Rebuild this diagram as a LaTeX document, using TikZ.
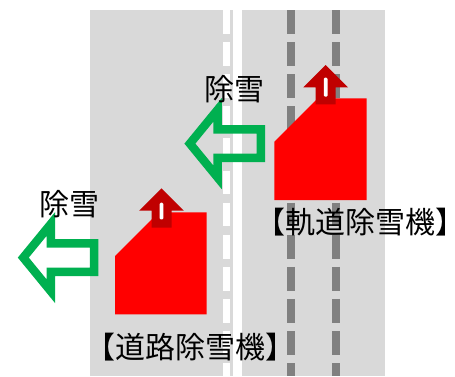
\documentclass[tikz,border=0pt]{standalone}
\usepackage{fontspec}
\newfontfamily\jpfont{Noto Sans CJK JP}
\definecolor{roadgray}{HTML}{D9D9D9}
\definecolor{dashgray}{HTML}{808080}
\definecolor{arrowgreen}{HTML}{00B050}
\definecolor{bodyred}{HTML}{FF0000}
\definecolor{darkred}{HTML}{C00000}
\tikzset{
  road/.style={fill=roadgray, draw=none},
  whitedash/.style={draw=white, line width=7.5pt, dash pattern=on 23.8pt off 8.3pt},
  graydash/.style={draw=dashgray, line width=8pt, dash pattern=on 23.8pt off 8.3pt},
  vehicle/.style={fill=bodyred, draw=none},
  uparrow/.style={fill=darkred, draw=none},
  slit/.style={fill=white, draw=none, rounded corners=1.2pt},
  greenarrow/.style={draw=arrowgreen, line width=8.5pt, miter limit=10, fill=none},
  lbl/.style={font=\jpfont\fontsize{30}{30}\selectfont, inner sep=0pt, text=black}
}
\begin{document}
\begin{tikzpicture}[x=1pt, y=-1pt]
\useasboundingbox (0,0) rectangle (455,376);
% roads
\fill[road] (90,10) rectangle (232.7,376);
\fill[road] (242,10) rectangle (385,376);
% lane markings
\coordinate (wt) at (226.3,10); \coordinate (wb) at (226.3,376);
\coordinate (g1t) at (291.3,10); \coordinate (g1b) at (291.3,376);
\coordinate (g2t) at (336.3,10); \coordinate (g2b) at (336.3,376);
\draw[whitedash] (wt) -- (wb);
\draw[graydash] (g1t) -- (g1b);
\draw[graydash] (g2t) -- (g2b);
% vehicles
\fill[vehicle] (274.3,200) -- (274.3,141.7) -- (317.7,98.3) -- (366.7,98.3) -- (366.7,200) -- cycle;
\fill[vehicle] (115,314.3) -- (115,256) -- (158.7,212.3) -- (206.7,212.3) -- (206.7,314.3) -- cycle;
% dark red up arrows
\begin{scope}[shift={(325.7,65)}]
\fill[uparrow] (0,0) -- (22.3,22.3) -- (10,22.3) -- (10,39.3) -- (-10,39.3) -- (-10,22.3) -- (-22.3,22.3) -- cycle;
\fill[slit] (-1.9,12.7) rectangle (1.9,31.7);
\end{scope}
\begin{scope}[shift={(161.5,188.3)}]
\fill[uparrow] (0,0) -- (22.3,22.3) -- (10,22.3) -- (10,39.3) -- (-10,39.3) -- (-10,22.3) -- (-22.3,22.3) -- cycle;
\fill[slit] (-1.9,14.4) rectangle (1.9,31.0);
\end{scope}
% green arrows
\draw[greenarrow] (189.9,143.6) -- (217.5,109.9) -- (217.5,129.3) -- (260.8,129.3) -- (260.8,157.9) -- (217.5,157.9) -- (217.5,177.3) -- cycle;
\begin{scope}[shift={(-166.6,114)}]
\draw[greenarrow] (189.9,143.6) -- (217.5,109.9) -- (217.5,129.3) -- (260.8,129.3) -- (260.8,157.9) -- (217.5,157.9) -- (217.5,177.3) -- cycle;
\end{scope}
% labels
\node[lbl] (j1) at (234.5,88.7) {除雪};
\node[lbl] (j2) at (69,204) {除雪};
\node[lbl] (t1) at (360,221.7) {【軌道除雪機】};
\node[lbl] (t2) at (190,346.7) {【道路除雪機】};
\end{tikzpicture}
\end{document}
